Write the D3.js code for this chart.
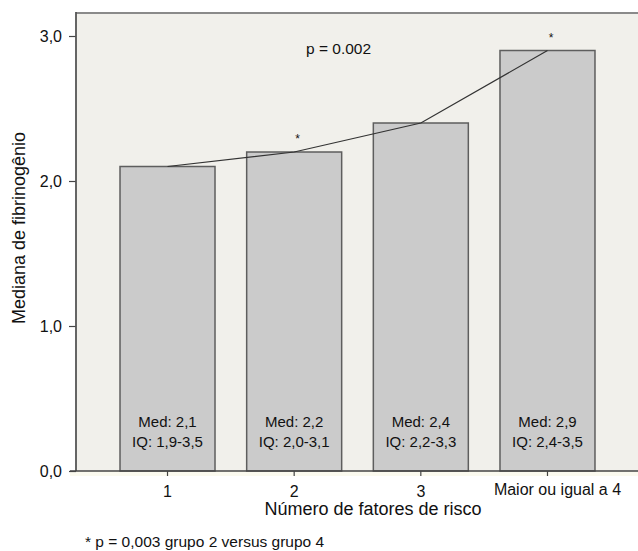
<!DOCTYPE html>
<html>
<head>
  <meta charset="utf-8">
  <title>Mediana de fibrinogênio por número de fatores de risco</title>
  <script src="https://d3js.org/d3.v7.min.js"></script>
  <style>
    body { margin: 0; background: #fff; }
    text { font-family: "Liberation Sans", Arial, Helvetica, sans-serif; fill: #111; }
  </style>
</head>
<body>
  <svg width="638" height="551"></svg>
  <script>
    // Data
    const categories = ["1", "2", "3", "Maior ou igual a 4"];
    const medians = [2.1, 2.2, 2.4, 2.9];
    const iqRanges = ["1,9-3,5", "2,0-3,1", "2,2-3,3", "2,4-3,5"];
    const starred = ["2", "Maior ou igual a 4"];   // groups marked with *
    const yTicks = [0, 1, 2, 3];

    const svg = d3.select("svg");
    const comma = d3.formatLocale({ decimal: ",", thousands: ".", grouping: [3], currency: ["", ""] }).format(".1f");

    // Scales
    const x = d3.scaleBand()
      .domain(categories)
      .range([76, 639])
      .paddingInner(0.25)
      .paddingOuter(0.3475);

    const y = d3.scaleLinear()
      .domain([0, 3])
      .range([471, 36]);

    const plotTop = y(3.158);

    // Plot background
    svg.append("rect")
      .attr("x", 76).attr("y", plotTop)
      .attr("width", 638 - 76).attr("height", y(0) - plotTop)
      .attr("fill", "#f1f0eb");

    // faint band under the axis
    svg.append("rect")
      .attr("x", 70).attr("y", y(0))
      .attr("width", 638 - 70).attr("height", 5)
      .attr("fill", "#fbfaef");

    // Bars
    svg.selectAll("rect.bar")
      .data(categories)
      .enter()
      .append("rect")
      .attr("class", "bar")
      .attr("x", d => x(d))
      .attr("y", (d, i) => y(medians[i]))
      .attr("width", x.bandwidth())
      .attr("height", (d, i) => y(0) - y(medians[i]))
      .attr("fill", "#cbcbcb")
      .attr("stroke", "#5e5e5e")
      .attr("stroke-width", 1.5);

    // Line through bar tops
    const line = d3.line()
      .x(d => x(d) + x.bandwidth() / 2)
      .y((d, i) => y(medians[i]));

    svg.append("path")
      .datum(categories)
      .attr("d", line)
      .attr("fill", "none")
      .attr("stroke", "#333")
      .attr("stroke-width", 1.2);

    // Labels inside bars
    const labels = svg.selectAll("g.barlabel")
      .data(categories)
      .enter()
      .append("g")
      .attr("class", "barlabel")
      .attr("transform", d => `translate(${x(d) + x.bandwidth() / 2},0)`);

    labels.append("text")
      .attr("y", 427)
      .attr("text-anchor", "middle")
      .style("font-size", "15px")
      .text((d, i) => `Med: ${comma(medians[i])}`);

    labels.append("text")
      .attr("y", 447)
      .attr("text-anchor", "middle")
      .style("font-size", "15px")
      .text((d, i) => `IQ: ${iqRanges[i]}`);

    // Asterisks above marked bars
    svg.selectAll("text.star")
      .data(starred)
      .enter()
      .append("text")
      .attr("class", "star")
      .attr("x", d => x(d) + x.bandwidth() / 2 + 3.5)
      .attr("y", d => y(medians[categories.indexOf(d)]) - 9)
      .attr("text-anchor", "middle")
      .style("font-size", "12px")
      .text("*");

    // p value
    svg.append("text")
      .attr("x", 306).attr("y", 54)
      .style("font-size", "15.5px")
      .text("p = 0.002");

    // Top frame line
    svg.append("line")
      .attr("x1", 76).attr("x2", 638)
      .attr("y1", plotTop).attr("y2", plotTop)
      .attr("stroke", "#8a8a8a")
      .attr("stroke-width", 2);

    // Y axis
    const yAxis = svg.append("g")
      .attr("transform", "translate(76,0)")
      .call(d3.axisLeft(y).tickValues(yTicks).tickFormat(comma).tickSize(7).tickPadding(7).tickSizeOuter(0));
    yAxis.select(".domain").remove();
    yAxis.selectAll("line").attr("stroke", "#444").attr("stroke-width", 1.2);
    yAxis.selectAll("text").style("font-size", "16px").attr("fill", "#111")
      .style("font-family", "'Liberation Sans', Arial, sans-serif");

    svg.append("line")
      .attr("x1", 76).attr("x2", 76)
      .attr("y1", plotTop - 1).attr("y2", y(0))
      .attr("stroke", "#555")
      .attr("stroke-width", 1.8);

    // X axis
    const xAxis = svg.append("g")
      .attr("transform", `translate(0,${y(0)})`)
      .call(d3.axisBottom(x).tickSize(5).tickPadding(10).tickSizeOuter(0));
    xAxis.select(".domain").remove();
    xAxis.selectAll("line").attr("stroke", "#444").attr("stroke-width", 1.2);
    xAxis.selectAll("text").style("font-size", "16px").attr("fill", "#111")
      .style("font-family", "'Liberation Sans', Arial, sans-serif");
    // the long last label sits a little right and higher in the original
    xAxis.selectAll(".tick").filter(d => d === "Maior ou igual a 4")
      .select("text").attr("dx", 10).attr("y", 13);

    svg.append("line")
      .attr("x1", 70).attr("x2", 638)
      .attr("y1", y(0)).attr("y2", y(0))
      .attr("stroke", "#444")
      .attr("stroke-width", 1.5);

    // Axis titles
    svg.append("text")
      .attr("x", 373).attr("y", 515)
      .attr("text-anchor", "middle")
      .style("font-size", "18px")
      .text("Número de fatores de risco");

    svg.append("text")
      .attr("transform", "translate(25,228) rotate(-90)")
      .attr("text-anchor", "middle")
      .style("font-size", "18px")
      .text("Mediana de fibrinogênio");

    // Footnote
    svg.append("text")
      .attr("x", 85).attr("y", 547)
      .style("font-size", "15.5px")
      .text("* p = 0,003 grupo 2 versus grupo 4");
  </script>
</body>
</html>
